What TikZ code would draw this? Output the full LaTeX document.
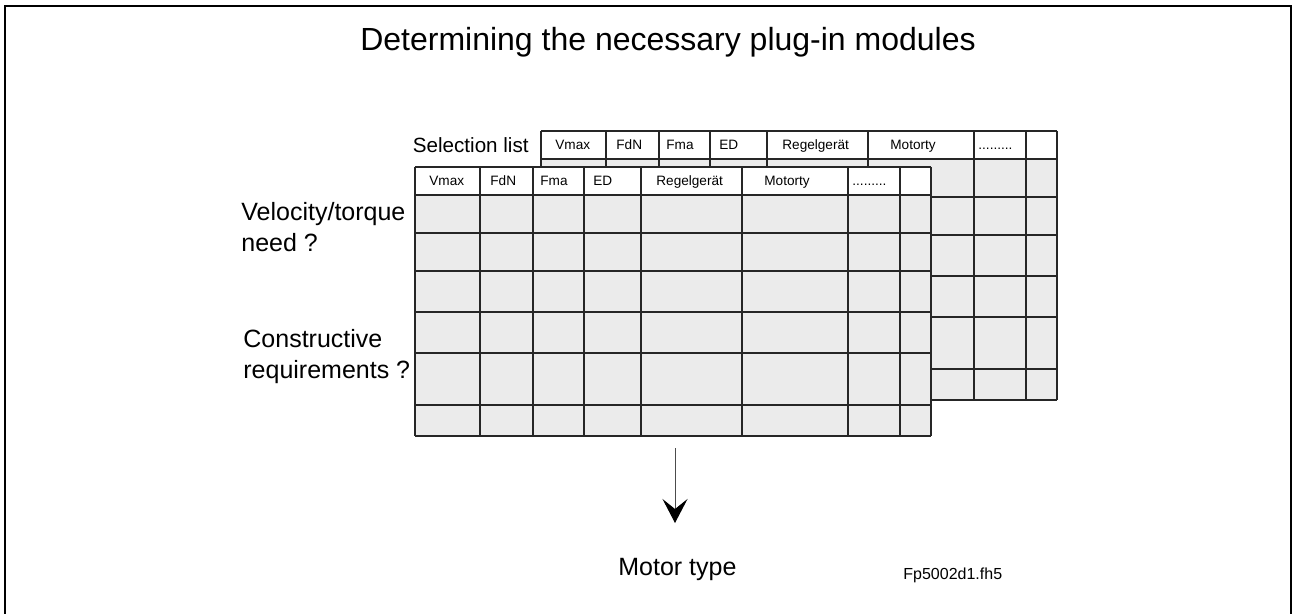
\documentclass[tikz,border=0pt]{standalone}
\usepackage{fontspec}
\setmainfont{Liberation Sans}
\usetikzlibrary{arrows.meta}

\definecolor{cellgray}{RGB}{235,235,235}

\tikzset{
    grid line/.style={line width=1pt, black!85},
    head text/.style={font=\fontsize{6.8}{8}\selectfont, inner sep=0pt, anchor=base west},
    side text/.style={font=\fontsize{12.5}{15.5}\selectfont, align=left, inner sep=0pt},
}

\newcommand\seltable[3]{%
    \begin{scope}[shift={(#1,#2)}]
        \fill[cellgray] (415,195) rectangle (931,436);
        \fill[white] (415,167) rectangle (931,195);
        \foreach \y in {167,195,233,271,312,353,405,436}
            \draw[grid line] (415,\y) -- (931,\y);
        \foreach \x in {415,480,533,584,641,742,848,900,931}
            \draw[grid line] (\x,167) -- (\x,436);
        \node[head text] (vmax-#3) at (429,186) {Vmax};
        \node[head text] (fdn-#3) at (490,186) {FdN};
        \node[head text] (fma-#3) at (540,186) {Fma};
        \node[head text] (ed-#3) at (593,186) {ED};
        \node[head text] (regler-#3) at (656,186) {Regelgerät};
        \node[head text] (motor-#3) at (764,186) {Motorty};
        \node[head text] (dots-#3) at (852,186) {.........};
    \end{scope}}

\begin{document}
\begin{tikzpicture}[x=0.5pt, y=-0.5pt]
    \useasboundingbox (0,0) rectangle (1295,614);
    \draw[line width=1.2pt] (5,630) |- (1291,6) -- (1291,630);

    \node[font=\fontsize{16}{19}\selectfont, inner sep=0pt, anchor=base] (title) at (668,51)
        {Determining the necessary plug-in modules};

    \seltable{126}{-36}{back}
    \seltable{0}{0}{front}

    \node[font=\fontsize{10.3}{12}\selectfont, inner sep=0pt, anchor=base east] (sellist) at (529,153) {Selection list};
    \node[side text, anchor=north west] (velocity) at (241,202) {Velocity/torque\\need ?};
    \node[side text, anchor=north west] (constr) at (243,329) {Constructive\\requirements ?};

    \coordinate (arrtop) at (675,448);
    \coordinate (arrtip) at (675,523);
    \draw[line width=0.5pt, black!70, -{Stealth[length=12pt, width=12.5pt, inset=5pt, black]}] (arrtop) -- (arrtip);

    \node[font=\fontsize{12.5}{15}\selectfont, inner sep=0pt, anchor=base west] (motortype) at (618,575) {Motor type};
    \node[font=\fontsize{8}{10}\selectfont, inner sep=0pt, anchor=base west] (fileid) at (903,579) {Fp5002d1.fh5};
\end{tikzpicture}
\end{document}
